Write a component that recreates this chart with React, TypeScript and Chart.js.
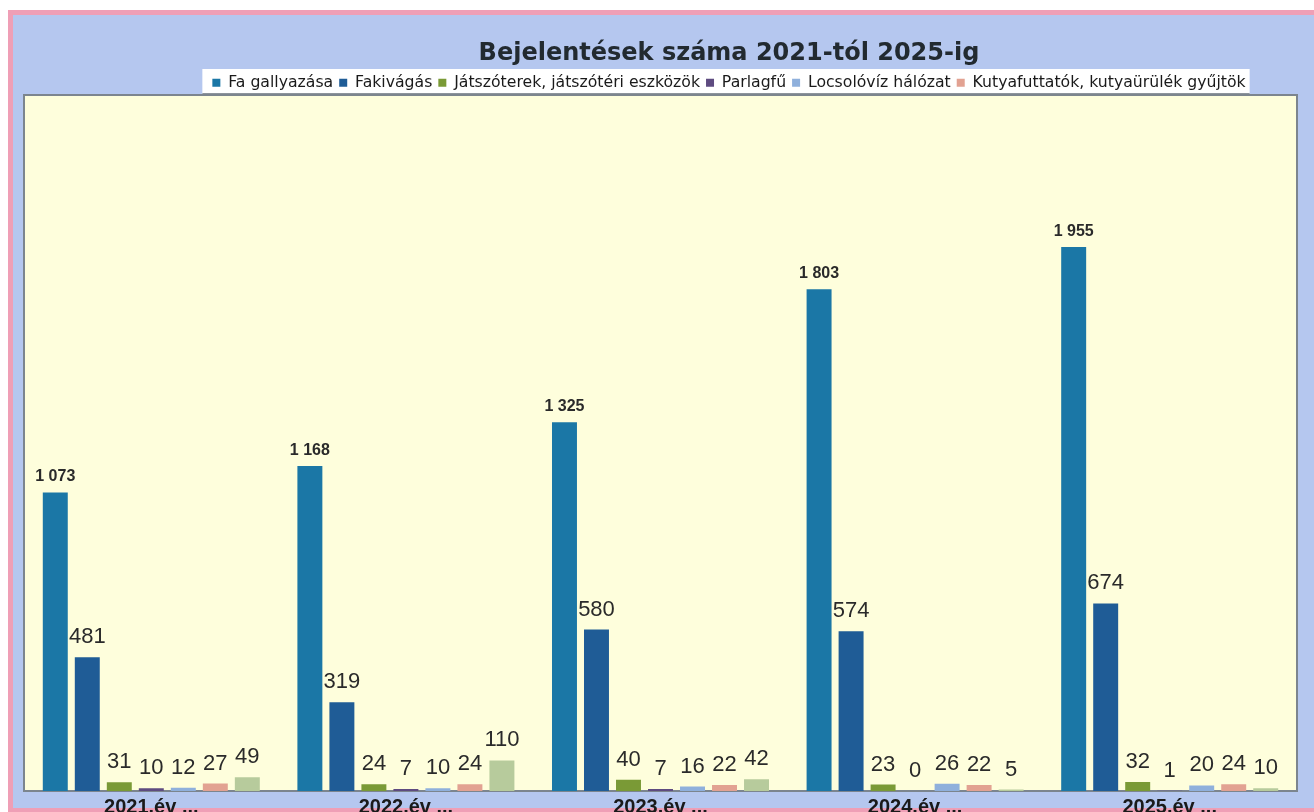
import React, { useEffect, useRef } from 'react';
import { Chart, registerables } from 'chart.js';

Chart.register(...registerables);

const categories = ['2021.év', '2022.év', '2023.év', '2024.év', '2025.év'];
const seriesNames = [
  'Fa gallyazása',
  'Fakivágás',
  'Játszóterek, játszótéri eszközök',
  'Parlagfű',
  'Locsolóvíz hálózat',
  'Kutyafuttatók, kutyaürülék gyűjtök',
  'Egyéb',
];
const faGallyazasa = [1073, 1168, 1325, 1803, 1955];
const fakivagas = [481, 319, 580, 574, 674];
const jatszoterek = [31, 24, 40, 23, 32];
const parlagfu = [10, 7, 7, 0, 1];
const locsolovíz = [12, 10, 16, 26, 20];
const kutyafuttatok = [27, 24, 22, 22, 24];
const egyeb = [49, 110, 42, 5, 10];
const seriesValues = [faGallyazasa, fakivagas, jatszoterek, parlagfu, locsolovíz, kutyafuttatok, egyeb];
const seriesColors = ['#1b77a6', '#1f5c96', '#7a9a36', '#5e4b80', '#8fb0dc', '#e2a292', '#b7cb9c'];
const legendCount = 6;
const titleText = 'Bejelentések száma 2021-tól 2025-ig';

const CANVAS_W = 1434;
const CANVAS_H = 830;
const PLOT_RIGHT = 1297;
const PX_PER_UNIT = 0.2783;
const LEGEND_FONT = 15.7;

const fmt = (v: number) => String(v).replace(/\B(?=(\d{3})+(?!\d))/g, ' ');

const framePlugin = {
  id: 'frame',
  beforeDraw(chart: any) {
    const { ctx, chartArea } = chart;
    ctx.save();
    ctx.fillStyle = '#ffffff';
    ctx.fillRect(0, 0, chart.width, chart.height);
    ctx.fillStyle = '#ef9fb6';
    ctx.fillRect(8, 10, chart.width - 8, chart.height - 10);
    ctx.fillStyle = '#b5c7ef';
    ctx.fillRect(13, 15, chart.width - 13, 808 - 15);

    // legend white box
    const legend = chart.legend;
    if (legend) {
      const lo = legend.options.labels;
      const fs = lo.font.size;
      ctx.font = `${fs}px "DejaVu Sans"`;
      let total = 0;
      const items = legend.legendItems || [];
      items.forEach((it: any, i: number) => {
        total += lo.boxWidth + fs / 2 + ctx.measureText(it.text).width;
        if (i < items.length - 1) total += lo.padding;
      });
      const cx = (legend.left + legend.right) / 2;
      const left = cx - total / 2 - 10;
      const right = cx + total / 2 + 4;
      ctx.fillStyle = '#ffffff';
      ctx.fillRect(left, 69, right - left, chartArea.top - 69);
      ctx.fillStyle = '#8d949c';
      ctx.fillRect(left, 93, right - left, 2);
    }

    // plot area
    const top = 95;
    ctx.fillStyle = '#fefedc';
    ctx.fillRect(chartArea.left, top, chartArea.right - chartArea.left, chartArea.bottom - top);
    ctx.strokeStyle = '#7c858e';
    ctx.lineWidth = 2;
    ctx.strokeRect(chartArea.left, top, chartArea.right - chartArea.left, chartArea.bottom - top);
    ctx.restore();
  },
};

const valueLabelPlugin = {
  id: 'valueLabels',
  afterDatasetsDraw(chart: any) {
    const { ctx } = chart;
    ctx.save();
    ctx.textAlign = 'center';
    ctx.textBaseline = 'middle';
    ctx.fillStyle = '#2a2a2a';
    chart.data.datasets.forEach((ds: any, di: number) => {
      const meta = chart.getDatasetMeta(di);
      meta.data.forEach((bar: any, i: number) => {
        const v = ds.data[i];
        const big = di === 0;
        ctx.font = big ? 'bold 16px "Liberation Sans"' : '22px "Liberation Sans"';
        ctx.fillText(fmt(v), bar.x, bar.y - (big ? 15.5 : 20));
      });
    });
    ctx.restore();
  },
};

export default function App() {
  const ref = useRef<HTMLCanvasElement | null>(null);

  useEffect(() => {
    if (!ref.current) return;
    const chartTop = 99.5;
    const chartBottom = 791;
    const legendPad = 6;
    const legendHeight = LEGEND_FONT + legendPad + 10;
    const yMax = (chartBottom - (69 + legendHeight)) / PX_PER_UNIT;
    const chart = new Chart(ref.current, {
      type: 'bar',
      data: {
        labels: categories,
        datasets: seriesValues.map((vals, i) => ({
          label: seriesNames[i],
          data: vals,
          backgroundColor: seriesColors[i],
          borderWidth: 0,
          barPercentage: 0.78,
          categoryPercentage: 0.88,
        })),
      },
      options: {
        responsive: false,
        animation: false,
        devicePixelRatio: 1,
        layout: { padding: { top: 41.5, left: 24, right: 0, bottom: 0 } },
        plugins: {
          title: {
            display: true,
            text: titleText,
            color: '#222a30',
            font: { family: '"DejaVu Sans"', size: 24, weight: 'bold', lineHeight: 1 },
            padding: { top: 0, bottom: 3.5 },
          },
          legend: {
            display: true,
            position: 'top',
            labels: {
              boxWidth: 8,
              boxHeight: 8,
              padding: legendPad,
              color: '#1a1a1a',
              font: { family: '"DejaVu Sans"', size: LEGEND_FONT },
              filter: (item: any) => item.datasetIndex < legendCount,
            },
          },
          tooltip: { enabled: false },
        },
        scales: {
          x: {
            grid: { display: false, drawTicks: false },
            border: { display: false },
            ticks: {
              padding: 4,
              color: '#1a1a1a',
              font: { family: '"Liberation Sans"', size: 20, weight: 'bold' },
              callback: (_v: any, i: number) => categories[i] + ' ...',
            },
            afterFit: (scale: any) => {
              scale.height = CANVAS_H - chartBottom;
            },
          },
          y: {
            position: 'right',
            min: 0,
            max: yMax,
            grid: { display: false, drawTicks: false },
            border: { display: false },
            ticks: { display: false },
            afterFit: (scale: any) => {
              scale.width = CANVAS_W - PLOT_RIGHT;
            },
          },
        },
      },
      plugins: [framePlugin, valueLabelPlugin],
    });
    return () => chart.destroy();
  }, []);

  return (
    <div
      style={{
        position: 'fixed',
        left: 0,
        top: 0,
        width: 1314,
        height: 812,
        overflow: 'hidden',
        background: '#ffffff',
      }}
    >
      <canvas ref={ref} width={CANVAS_W} height={CANVAS_H} style={{ display: 'block', width: CANVAS_W, height: CANVAS_H }} />
    </div>
  );
}
